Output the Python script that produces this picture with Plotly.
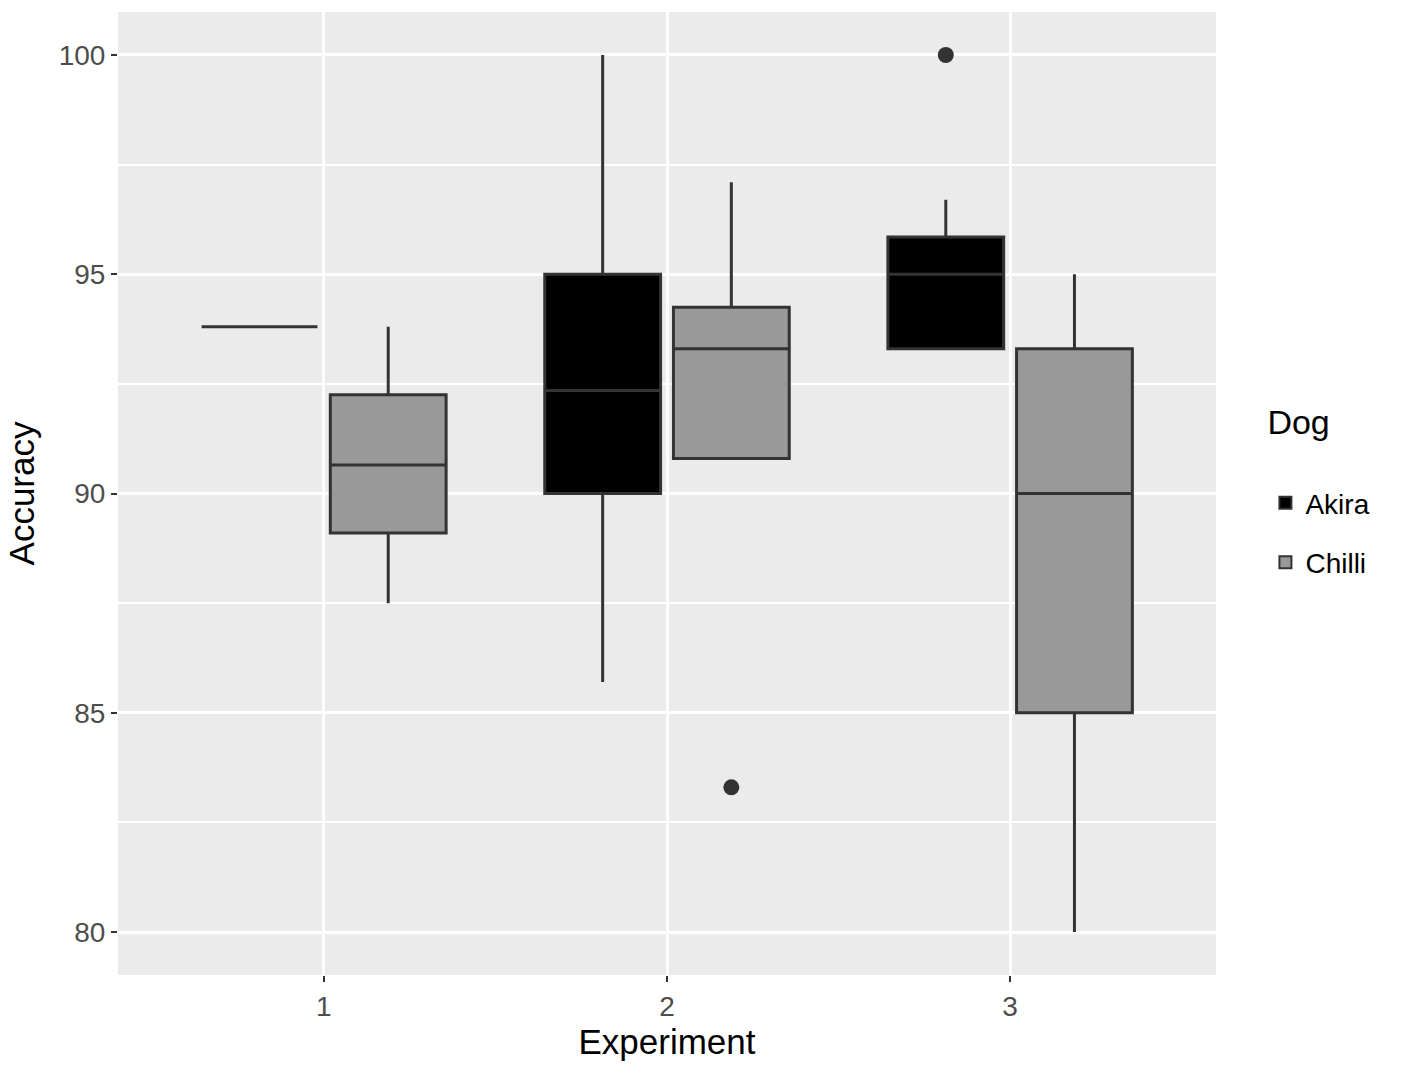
import plotly.graph_objects as go

experiments = ["1", "2", "3"]
dogs = ["Akira", "Chilli"]

# Precomputed box statistics per dog, per experiment
akira_q1 = [93.8, 90.0, 93.3]
akira_median = [93.8, 92.35, 95.0]
akira_q3 = [93.8, 95.0, 95.85]
akira_lower = [93.8, 85.7, 93.3]
akira_upper = [93.8, 100.0, 96.7]
akira_outlier_x = ["3"]
akira_outlier_y = [100.0]

chilli_q1 = [89.1, 90.8, 85.0]
chilli_median = [90.65, 93.3, 90.0]
chilli_q3 = [92.25, 94.25, 93.3]
chilli_lower = [87.5, 90.8, 80.0]
chilli_upper = [93.8, 97.1, 95.0]
chilli_outlier_x = ["2"]
chilli_outlier_y = [83.3]

fills = {"Akira": "#000000", "Chilli": "#999999"}
line_col = "#333333"

fig = go.Figure()
series = [
    ("Akira", akira_q1, akira_median, akira_q3, akira_lower, akira_upper, akira_outlier_x, akira_outlier_y),
    ("Chilli", chilli_q1, chilli_median, chilli_q3, chilli_lower, chilli_upper, chilli_outlier_x, chilli_outlier_y),
]
for name, q1, med, q3, lo, hi, ox, oy in series:
    fig.add_trace(go.Box(
        name=name,
        x=experiments,
        q1=q1, median=med, q3=q3,
        lowerfence=lo, upperfence=hi,
        boxpoints=False,
        fillcolor=fills[name],
        line=dict(color=line_col, width=3),
        whiskerwidth=0,
        offsetgroup=name,
        legendgroup=name,
    ))
for name, q1, med, q3, lo, hi, ox, oy in series:
    fig.add_trace(go.Scatter(
        name=name + " outliers",
        x=ox, y=oy,
        mode="markers",
        marker=dict(color=line_col, size=16, line=dict(width=0)),
        showlegend=False,
        offsetgroup=name,
        legendgroup=name,
    ))

font_family = "Liberation Sans, Arial, sans-serif"
fig.update_layout(
    width=1422, height=1076,
    margin=dict(l=118, r=206, t=12, b=101),
    paper_bgcolor="white",
    plot_bgcolor="#EBEBEB",
    boxmode="group",
    boxgap=0.25,
    boxgroupgap=0.1,
    scattermode="group",
    scattergap=0.25,
    font=dict(family=font_family, color="#000000"),
    showlegend=True,
    legend=dict(
        title=dict(text="Dog<br> ", font=dict(size=34, color="#000000")),
        font=dict(size=28, color="#000000"),
        x=1.045, xanchor="left", y=0.505, yanchor="middle",
        bgcolor="rgba(0,0,0,0)",
        traceorder="grouped",
        tracegroupgap=20,
        itemsizing="constant",
    ),
    xaxis=dict(
        type="category",
        categoryorder="array", categoryarray=experiments,
        range=[-0.6, 2.6],
        showgrid=True, gridcolor="white", gridwidth=3,
        zeroline=False, showline=False,
        ticks="outside", ticklen=6, tickwidth=2, tickcolor=line_col,
        tickfont=dict(size=28, color="#4D4D4D"),
        title=dict(text="Experiment", font=dict(size=35, color="#000000"), standoff=8),
    ),
    yaxis=dict(
        range=[79.02, 100.98],
        tickvals=[80, 85, 90, 95, 100],
        showgrid=True, gridcolor="white", gridwidth=3,
        minor=dict(tickvals=[82.5, 87.5, 92.5, 97.5], showgrid=True, gridcolor="white", gridwidth=1.5, ticks=""),
        zeroline=False, showline=False,
        ticks="outside", ticklen=6, tickwidth=2, tickcolor=line_col,
        tickfont=dict(size=28, color="#4D4D4D"),
        title=dict(text="Accuracy", font=dict(size=35, color="#000000"), standoff=13),
    ),
)

fig.write_html("out.html")
